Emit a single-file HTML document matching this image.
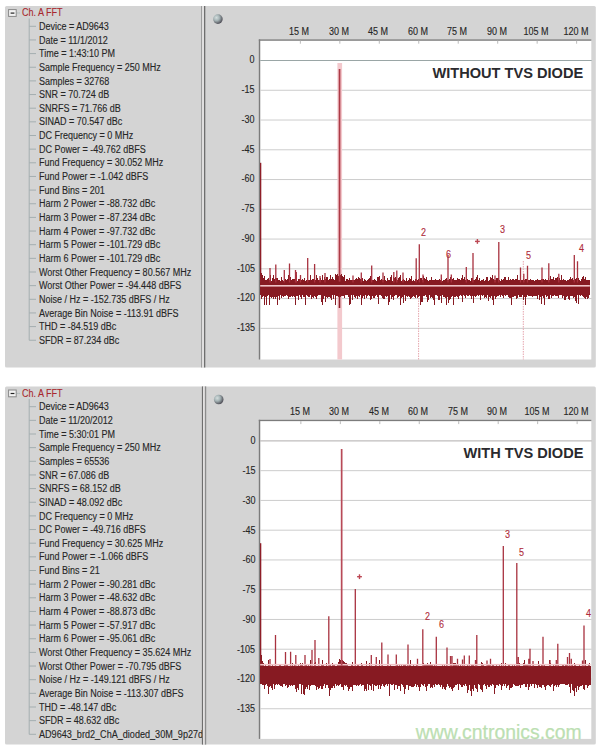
<!DOCTYPE html>
<html><head><meta charset="utf-8"><style>
html,body{margin:0;padding:0;background:#fff}
body{width:600px;height:748px;position:relative;overflow:hidden;font-family:"Liberation Sans",Arial,sans-serif}
svg{position:absolute;left:0;top:0}
.t{position:absolute;font-size:10.0px;line-height:10.0px;white-space:nowrap;color:#262626;-webkit-text-stroke:0.12px currentColor;transform:scaleX(0.9);transform-origin:0 0}
.t.r{transform-origin:100% 0;text-align:right}
.t.c{transform-origin:50% 0;text-align:center}
.t.m{color:#b02c3a}
.b{position:absolute;font-size:14.6px;line-height:14.8px;font-weight:bold;color:#2a2a2e;white-space:nowrap}
.wm{position:absolute;left:415.8px;top:722.3px;font-size:19.4px;line-height:20px;color:#bcdfb2;-webkit-text-stroke:0.25px #bcdfb2;white-space:nowrap}
.clip{position:absolute;overflow:hidden}
</style></head><body>
<svg width="600" height="748" viewBox="0 0 600 748">
<defs><radialGradient id="ball" cx="35%" cy="35%" r="70%"><stop offset="0" stop-color="#d4dede"/><stop offset="0.45" stop-color="#a4b2b4"/><stop offset="0.8" stop-color="#6a6e74"/><stop offset="1" stop-color="#4a4852"/></radialGradient></defs>
<rect x="5" y="6.00" width="590.8" height="361.50" rx="1.5" fill="#d4d4d4"/><rect x="8.6" y="9.60" width="7.6" height="6.8" fill="#f4f4f4" stroke="#888" stroke-width="1"/><rect x="10.6" y="12.50" width="3.8" height="1.2" fill="#222"/><line x1="16.6" y1="13.00" x2="20" y2="13.00" stroke="#9aa" stroke-width="1" stroke-dasharray="1 1"/><line x1="29.2" y1="18.50" x2="29.2" y2="340.25" stroke="#a4aeb0" stroke-width="1"/><line x1="29.2" y1="26.30" x2="36" y2="26.30" stroke="#a4aeb0" stroke-width="1"/><line x1="29.2" y1="39.95" x2="36" y2="39.95" stroke="#a4aeb0" stroke-width="1"/><line x1="29.2" y1="53.60" x2="36" y2="53.60" stroke="#a4aeb0" stroke-width="1"/><line x1="29.2" y1="67.25" x2="36" y2="67.25" stroke="#a4aeb0" stroke-width="1"/><line x1="29.2" y1="80.90" x2="36" y2="80.90" stroke="#a4aeb0" stroke-width="1"/><line x1="29.2" y1="94.55" x2="36" y2="94.55" stroke="#a4aeb0" stroke-width="1"/><line x1="29.2" y1="108.20" x2="36" y2="108.20" stroke="#a4aeb0" stroke-width="1"/><line x1="29.2" y1="121.85" x2="36" y2="121.85" stroke="#a4aeb0" stroke-width="1"/><line x1="29.2" y1="135.50" x2="36" y2="135.50" stroke="#a4aeb0" stroke-width="1"/><line x1="29.2" y1="149.15" x2="36" y2="149.15" stroke="#a4aeb0" stroke-width="1"/><line x1="29.2" y1="162.80" x2="36" y2="162.80" stroke="#a4aeb0" stroke-width="1"/><line x1="29.2" y1="176.45" x2="36" y2="176.45" stroke="#a4aeb0" stroke-width="1"/><line x1="29.2" y1="190.10" x2="36" y2="190.10" stroke="#a4aeb0" stroke-width="1"/><line x1="29.2" y1="203.75" x2="36" y2="203.75" stroke="#a4aeb0" stroke-width="1"/><line x1="29.2" y1="217.40" x2="36" y2="217.40" stroke="#a4aeb0" stroke-width="1"/><line x1="29.2" y1="231.05" x2="36" y2="231.05" stroke="#a4aeb0" stroke-width="1"/><line x1="29.2" y1="244.70" x2="36" y2="244.70" stroke="#a4aeb0" stroke-width="1"/><line x1="29.2" y1="258.35" x2="36" y2="258.35" stroke="#a4aeb0" stroke-width="1"/><line x1="29.2" y1="272.00" x2="36" y2="272.00" stroke="#a4aeb0" stroke-width="1"/><line x1="29.2" y1="285.65" x2="36" y2="285.65" stroke="#a4aeb0" stroke-width="1"/><line x1="29.2" y1="299.30" x2="36" y2="299.30" stroke="#a4aeb0" stroke-width="1"/><line x1="29.2" y1="312.95" x2="36" y2="312.95" stroke="#a4aeb0" stroke-width="1"/><line x1="29.2" y1="326.60" x2="36" y2="326.60" stroke="#a4aeb0" stroke-width="1"/><line x1="29.2" y1="340.25" x2="36" y2="340.25" stroke="#a4aeb0" stroke-width="1"/><rect x="5" y="386.40" width="590.8" height="358.20" rx="1.5" fill="#d4d4d4"/><rect x="8.6" y="390.00" width="7.6" height="6.8" fill="#f4f4f4" stroke="#888" stroke-width="1"/><rect x="10.6" y="392.90" width="3.8" height="1.2" fill="#222"/><line x1="16.6" y1="393.40" x2="20" y2="393.40" stroke="#9aa" stroke-width="1" stroke-dasharray="1 1"/><line x1="29.2" y1="398.90" x2="29.2" y2="734.30" stroke="#a4aeb0" stroke-width="1"/><line x1="29.2" y1="406.70" x2="36" y2="406.70" stroke="#a4aeb0" stroke-width="1"/><line x1="29.2" y1="420.35" x2="36" y2="420.35" stroke="#a4aeb0" stroke-width="1"/><line x1="29.2" y1="434.00" x2="36" y2="434.00" stroke="#a4aeb0" stroke-width="1"/><line x1="29.2" y1="447.65" x2="36" y2="447.65" stroke="#a4aeb0" stroke-width="1"/><line x1="29.2" y1="461.30" x2="36" y2="461.30" stroke="#a4aeb0" stroke-width="1"/><line x1="29.2" y1="474.95" x2="36" y2="474.95" stroke="#a4aeb0" stroke-width="1"/><line x1="29.2" y1="488.60" x2="36" y2="488.60" stroke="#a4aeb0" stroke-width="1"/><line x1="29.2" y1="502.25" x2="36" y2="502.25" stroke="#a4aeb0" stroke-width="1"/><line x1="29.2" y1="515.90" x2="36" y2="515.90" stroke="#a4aeb0" stroke-width="1"/><line x1="29.2" y1="529.55" x2="36" y2="529.55" stroke="#a4aeb0" stroke-width="1"/><line x1="29.2" y1="543.20" x2="36" y2="543.20" stroke="#a4aeb0" stroke-width="1"/><line x1="29.2" y1="556.85" x2="36" y2="556.85" stroke="#a4aeb0" stroke-width="1"/><line x1="29.2" y1="570.50" x2="36" y2="570.50" stroke="#a4aeb0" stroke-width="1"/><line x1="29.2" y1="584.15" x2="36" y2="584.15" stroke="#a4aeb0" stroke-width="1"/><line x1="29.2" y1="597.80" x2="36" y2="597.80" stroke="#a4aeb0" stroke-width="1"/><line x1="29.2" y1="611.45" x2="36" y2="611.45" stroke="#a4aeb0" stroke-width="1"/><line x1="29.2" y1="625.10" x2="36" y2="625.10" stroke="#a4aeb0" stroke-width="1"/><line x1="29.2" y1="638.75" x2="36" y2="638.75" stroke="#a4aeb0" stroke-width="1"/><line x1="29.2" y1="652.40" x2="36" y2="652.40" stroke="#a4aeb0" stroke-width="1"/><line x1="29.2" y1="666.05" x2="36" y2="666.05" stroke="#a4aeb0" stroke-width="1"/><line x1="29.2" y1="679.70" x2="36" y2="679.70" stroke="#a4aeb0" stroke-width="1"/><line x1="29.2" y1="693.35" x2="36" y2="693.35" stroke="#a4aeb0" stroke-width="1"/><line x1="29.2" y1="707.00" x2="36" y2="707.00" stroke="#a4aeb0" stroke-width="1"/><line x1="29.2" y1="720.65" x2="36" y2="720.65" stroke="#a4aeb0" stroke-width="1"/><line x1="29.2" y1="734.30" x2="36" y2="734.30" stroke="#a4aeb0" stroke-width="1"/><rect x="201" y="6.00" width="1.1" height="361.50" fill="#9c9c9c"/><rect x="202.1" y="6.00" width="1.8" height="361.50" fill="#e2e0e0"/><rect x="204" y="6.00" width="1.3" height="361.50" fill="#6e6e6e"/><circle cx="217.9" cy="19.10" r="4.8" fill="url(#ball)"/><rect x="260.2" y="40.70" width="331.1" height="318.80" fill="#fff"/><rect x="258.8" y="39.40" width="1.4" height="320.10" fill="#7c7c7c"/><rect x="258.8" y="39.40" width="332.5" height="1.3" fill="#7c7c7c"/><rect x="299.86" y="40.70" width="1" height="3" fill="#bbb"/><rect x="339.33" y="40.70" width="1" height="3" fill="#bbb"/><rect x="378.79" y="40.70" width="1" height="3" fill="#bbb"/><rect x="418.26" y="40.70" width="1" height="3" fill="#bbb"/><rect x="457.72" y="40.70" width="1" height="3" fill="#bbb"/><rect x="497.19" y="40.70" width="1" height="3" fill="#bbb"/><rect x="536.65" y="40.70" width="1" height="3" fill="#bbb"/><rect x="576.12" y="40.70" width="1" height="3" fill="#bbb"/><rect x="260.2" y="60.00" width="331.5" height="1" fill="#9aa6a6"/><rect x="260.2" y="89.76" width="331.5" height="1" fill="#cdcdcd"/><rect x="260.2" y="119.52" width="331.5" height="1" fill="#cdcdcd"/><rect x="260.2" y="149.28" width="331.5" height="1" fill="#cdcdcd"/><rect x="260.2" y="179.04" width="331.5" height="1" fill="#cdcdcd"/><rect x="260.2" y="208.80" width="331.5" height="1" fill="#cdcdcd"/><rect x="260.2" y="238.56" width="331.5" height="1" fill="#cdcdcd"/><rect x="260.2" y="268.32" width="331.5" height="1" fill="#cdcdcd"/><rect x="260.2" y="298.08" width="331.5" height="1" fill="#cdcdcd"/><rect x="260.2" y="327.84" width="331.5" height="1" fill="#cdcdcd"/><rect x="337.40" y="63.00" width="4.7" height="296.50" fill="#f3c9cd"/><line x1="418.6" y1="293.0" x2="418.6" y2="359.5" stroke="#e6a6ae" stroke-width="1" stroke-dasharray="1.5 1"/><line x1="523.3" y1="261.0" x2="523.3" y2="359.5" stroke="#e6a6ae" stroke-width="1" stroke-dasharray="1.5 1"/><path d="M260.7 267.5V295.3M261.7 273.1V298.6M262.7 274.8V297.0M263.7 277.8V295.5M264.7 276.3V304.8M265.7 280.3V297.1M266.7 280.1V304.8M267.7 279.1V295.7M268.7 277.9V295.0M269.7 280.4V304.6M270.7 274.6V296.5M271.7 280.5V297.5M272.7 277.8V297.2M273.7 274.6V299.0M274.7 279.1V296.8M275.7 278.0V298.9M276.7 277.9V297.0M277.7 278.4V304.8M278.7 280.3V296.4M279.7 279.8V299.5M280.7 280.6V295.2M281.7 276.8V297.9M282.7 280.0V295.8M283.7 280.5V297.2M284.7 280.3V295.9M285.7 278.5V296.3M286.7 280.4V295.3M287.7 279.4V296.3M288.7 274.6V298.8M289.7 280.2V297.3M290.7 277.4V296.5M291.7 280.0V295.9M292.7 278.8V297.1M293.7 279.4V295.5M294.7 279.4V297.4M295.7 279.3V304.7M296.7 275.0V295.8M297.7 280.6V296.3M298.7 278.9V299.8M299.7 279.4V294.9M300.7 280.1V296.5M301.7 280.3V298.9M302.7 279.4V294.9M303.7 279.6V297.0M304.7 278.2V296.5M305.7 280.5V304.8M306.7 280.2V295.4M307.7 280.4V295.6M308.7 280.2V296.6M309.7 279.6V297.2M310.7 275.4V295.2M311.7 279.6V299.3M312.7 279.4V296.8M313.7 278.7V297.8M314.7 279.5V296.1M315.7 279.7V297.0M316.7 274.6V298.9M317.7 277.5V296.3M318.7 280.3V295.4M319.7 280.2V295.4M320.7 278.1V295.3M321.7 279.9V301.8M322.7 274.6V304.8M323.7 280.1V298.7M324.7 276.6V296.1M325.7 278.7V302.3M326.7 277.3V296.6M327.7 277.4V298.4M328.7 280.0V297.0M329.7 278.6V296.9M330.7 274.6V297.5M331.7 279.0V299.5M332.7 276.6V295.1M333.7 279.4V299.2M334.7 279.7V295.4M335.7 273.9V304.8M336.7 275.2V295.7M337.7 274.2V295.8M338.7 275.6V296.5M339.7 272.4V294.9M340.7 274.9V296.6M341.7 273.8V296.0M342.7 276.0V296.3M343.7 276.9V296.1M344.7 275.0V298.2M345.7 280.5V295.2M346.7 278.5V295.2M347.7 278.5V295.0M348.7 280.1V297.3M349.7 278.1V304.8M350.7 280.4V304.0M351.7 280.2V294.9M352.7 279.6V299.7M353.7 280.3V294.9M354.7 280.0V296.7M355.7 278.8V297.8M356.7 277.8V295.9M357.7 279.1V299.4M358.7 276.5V295.9M359.7 278.4V296.7M360.7 278.6V295.2M361.7 280.4V304.8M362.7 277.7V297.9M363.7 280.6V295.5M364.7 278.7V299.1M365.7 279.9V295.3M366.7 280.5V297.8M367.7 280.4V295.9M368.7 279.3V294.8M369.7 278.0V295.7M370.7 276.2V299.8M371.7 280.4V299.1M372.7 280.1V296.2M373.7 280.3V297.6M374.7 278.7V298.3M375.7 280.3V296.2M376.7 280.5V295.1M377.7 277.0V296.5M378.7 276.5V303.9M379.7 275.9V295.2M380.7 280.2V295.3M381.7 278.7V296.2M382.7 280.2V297.5M383.7 279.6V299.0M384.7 276.1V298.5M385.7 280.4V296.4M386.7 280.5V297.0M387.7 278.3V295.5M388.7 280.3V304.8M389.7 279.9V301.5M390.7 276.7V295.1M391.7 274.8V298.8M392.7 280.6V297.2M393.7 276.7V299.8M394.7 278.0V295.6M395.7 276.5V295.1M396.7 278.9V294.9M397.7 280.4V298.2M398.7 278.1V296.9M399.7 276.5V296.0M400.7 274.8V304.8M401.7 280.6V298.2M402.7 279.7V297.0M403.7 278.5V302.5M404.7 280.4V294.9M405.7 280.5V300.9M406.7 277.8V296.1M407.7 280.6V296.5M408.7 279.9V296.0M409.7 278.2V296.5M410.7 278.5V298.7M411.7 276.1V298.4M412.7 280.6V297.0M413.7 279.8V296.0M414.7 280.5V297.4M415.7 278.5V297.9M416.7 278.5V295.3M417.7 280.4V298.1M418.7 278.6V296.5M419.7 279.6V296.2M420.7 278.1V304.8M421.7 278.1V302.2M422.7 279.5V302.2M423.7 275.9V296.1M424.7 278.4V295.5M425.7 279.3V295.2M426.7 277.2V296.7M427.7 280.2V302.0M428.7 280.5V299.7M429.7 280.1V294.8M430.7 280.2V298.0M431.7 276.6V296.7M432.7 280.4V298.2M433.7 280.4V300.3M434.7 280.4V304.5M435.7 278.5V295.1M436.7 280.2V295.1M437.7 280.3V295.6M438.7 279.9V299.6M439.7 279.1V300.0M440.7 280.0V295.9M441.7 278.1V302.5M442.7 280.5V295.4M443.7 279.5V296.5M444.7 280.3V297.0M445.7 278.9V297.8M446.7 278.2V304.8M447.7 279.8V297.3M448.7 279.6V302.6M449.7 278.7V300.3M450.7 276.9V298.6M451.7 280.3V297.4M452.7 279.0V296.2M453.7 278.0V304.8M454.7 279.5V296.7M455.7 279.8V297.1M456.7 279.9V295.7M457.7 278.0V296.8M458.7 279.3V299.0M459.7 279.0V296.4M460.7 280.4V295.0M461.7 278.3V296.0M462.7 275.1V302.2M463.7 279.4V295.2M464.7 277.3V295.5M465.7 280.4V298.1M466.7 279.9V295.3M467.7 278.8V295.8M468.7 280.0V296.3M469.7 280.3V295.1M470.7 280.5V296.4M471.7 277.5V298.7M472.7 277.9V296.4M473.7 280.1V303.1M474.7 279.9V295.7M475.7 278.7V296.7M476.7 277.4V295.7M477.7 274.8V294.9M478.7 280.2V296.1M479.7 278.2V295.1M480.7 280.5V300.3M481.7 280.1V295.3M482.7 279.9V295.8M483.7 279.1V295.0M484.7 280.5V297.5M485.7 280.2V297.1M486.7 277.4V297.9M487.7 276.9V295.1M488.7 280.5V300.8M489.7 279.7V297.3M490.7 276.8V298.2M491.7 278.1V295.6M492.7 274.6V299.5M493.7 279.1V304.8M494.7 279.8V296.2M495.7 280.3V299.2M496.7 278.3V296.5M497.7 278.3V296.3M498.7 278.1V295.9M499.7 280.2V295.4M500.7 280.6V296.5M501.7 279.3V295.2M502.7 280.1V296.4M503.7 278.9V298.3M504.7 276.6V295.4M505.7 276.8V295.6M506.7 279.5V294.9M507.7 280.1V294.9M508.7 277.0V296.7M509.7 279.6V298.1M510.7 279.4V297.7M511.7 279.5V304.8M512.7 279.1V297.0M513.7 278.5V297.4M514.7 280.2V295.9M515.7 279.3V296.0M516.7 278.8V299.3M517.7 274.6V298.4M518.7 279.7V295.2M519.7 280.3V296.7M520.7 280.6V297.0M521.7 280.3V297.3M522.7 280.1V294.8M523.7 278.5V299.8M524.7 279.7V296.6M525.7 278.8V304.8M526.7 278.9V297.2M527.7 279.0V295.2M528.7 279.6V295.7M529.7 280.4V295.6M530.7 279.3V295.6M531.7 279.8V296.0M532.7 279.8V297.3M533.7 279.8V296.1M534.7 280.5V295.5M535.7 280.3V295.5M536.7 280.2V296.2M537.7 278.7V298.5M538.7 280.0V295.2M539.7 279.5V300.1M540.7 280.3V296.8M541.7 279.2V303.5M542.7 279.4V295.6M543.7 279.0V297.7M544.7 279.8V304.8M545.7 279.4V295.0M546.7 279.9V297.4M547.7 279.9V296.2M548.7 277.8V299.2M549.7 280.4V298.5M550.7 275.9V295.3M551.7 279.4V297.6M552.7 279.4V295.7M553.7 277.4V296.0M554.7 280.0V295.4M555.7 278.2V296.2M556.7 278.0V296.4M557.7 277.4V295.5M558.7 280.3V297.9M559.7 277.9V294.9M560.7 280.0V295.3M561.7 274.6V295.1M562.7 279.7V298.0M563.7 279.1V295.6M564.7 280.2V299.5M565.7 279.8V299.8M566.7 280.6V297.1M567.7 280.4V295.7M568.7 279.7V298.6M569.7 279.4V300.3M570.7 277.0V295.7M571.7 278.8V295.6M572.7 278.0V295.7M573.7 280.0V298.1M574.7 276.6V297.4M575.7 279.3V301.2M576.7 277.6V302.9M577.7 279.7V295.1M578.7 277.8V304.2M579.7 280.0V295.4M580.7 280.5V296.2M581.7 278.7V295.3M582.7 276.8V295.8M583.7 276.4V297.4M584.7 279.3V297.5M585.7 277.4V298.9M586.7 280.2V297.0M587.7 279.6V299.1M588.7 280.0V297.9M589.7 279.7V295.1" stroke="#871a22" stroke-width="1" fill="none" shape-rendering="crispEdges"/><rect x="260.00" y="162.80" width="1.3" height="119.80" fill="#8e1e28"/><path d="M270.0 268.0V282.6M275.8 264.6V282.6M284.3 270.0V282.6M289.5 263.5V282.6M295.5 270.0V282.6M296.3 272.0V282.6M300.5 275.0V282.6M307.7 258.0V282.6M314.6 264.0V282.6M320.0 276.0V282.6M325.0 273.0V282.6M353.0 275.5V282.6M361.3 272.5V282.6M371.7 265.5V282.6M383.0 272.5V282.6M393.8 272.0V282.6M396.8 270.5V282.6M403.0 272.5V282.6M416.2 258.2V282.6M419.3 244.2V282.6M423.0 274.5V282.6M441.3 274.5V282.6M448.0 255.0V282.6M451.3 274.5V282.6M466.3 267.0V282.6M473.0 253.0V282.6M495.0 275.5V282.6M498.8 242.0V282.6M520.5 267.5V282.6M523.8 273.8V282.6M527.5 265.8V282.6M542.0 267.5V282.6M548.8 263.3V282.6M558.8 273.8V282.6M574.3 255.0V282.6M577.5 261.3V282.6" stroke="#a8323f" stroke-width="1.3" fill="none"/><rect x="260.2" y="285.00" width="329.7" height="1.6" fill="#f0c4c8"/><rect x="338.70" y="69.00" width="1.7" height="212.60" fill="#ad3a46"/><rect x="338.70" y="292.80" width="1.6" height="15.20" fill="#8e1e28"/><rect x="475.00" y="240.70" width="4.8" height="1.4" fill="#bc4854"/><rect x="476.70" y="239.00" width="1.4" height="4.8" fill="#bc4854"/><rect x="201.9" y="386.40" width="1.1" height="358.20" fill="#6e6e6e"/><rect x="203.0" y="386.40" width="1.8" height="358.20" fill="#e2e0e0"/><rect x="204.9" y="386.40" width="1.3" height="358.20" fill="#8c8c8c"/><circle cx="218.7" cy="399.50" r="4.8" fill="url(#ball)"/><rect x="260.2" y="421.10" width="331.1" height="317.80" fill="#fff"/><rect x="258.8" y="419.80" width="1.4" height="319.10" fill="#7c7c7c"/><rect x="258.8" y="419.80" width="332.5" height="1.3" fill="#7c7c7c"/><rect x="300.36" y="421.10" width="1" height="3" fill="#bbb"/><rect x="339.83" y="421.10" width="1" height="3" fill="#bbb"/><rect x="379.29" y="421.10" width="1" height="3" fill="#bbb"/><rect x="418.76" y="421.10" width="1" height="3" fill="#bbb"/><rect x="458.22" y="421.10" width="1" height="3" fill="#bbb"/><rect x="497.69" y="421.10" width="1" height="3" fill="#bbb"/><rect x="537.15" y="421.10" width="1" height="3" fill="#bbb"/><rect x="576.62" y="421.10" width="1" height="3" fill="#bbb"/><rect x="260.2" y="440.40" width="331.5" height="1" fill="#b0acac"/><rect x="260.2" y="470.16" width="331.5" height="1" fill="#cdcdcd"/><rect x="260.2" y="499.92" width="331.5" height="1" fill="#cdcdcd"/><rect x="260.2" y="529.68" width="331.5" height="1" fill="#cdcdcd"/><rect x="260.2" y="559.44" width="331.5" height="1" fill="#cdcdcd"/><rect x="260.2" y="589.20" width="331.5" height="1" fill="#cdcdcd"/><rect x="260.2" y="618.96" width="331.5" height="1" fill="#cdcdcd"/><rect x="260.2" y="648.72" width="331.5" height="1" fill="#cdcdcd"/><rect x="260.2" y="678.48" width="331.5" height="1" fill="#cdcdcd"/><rect x="260.2" y="708.24" width="331.5" height="1" fill="#cdcdcd"/><path d="M260.7 656.1V684.1M261.7 654.7V684.4M262.7 661.1V685.0M263.7 662.8V685.3M264.7 665.6V689.1M265.7 664.1V684.8M266.7 665.6V684.0M267.7 665.6V686.2M268.7 660.3V694.0M269.7 663.8V686.6M270.7 665.6V685.7M271.7 665.6V687.9M272.7 663.8V689.5M273.7 665.6V683.9M274.7 665.6V688.7M275.7 665.6V684.5M276.7 665.6V684.2M277.7 665.6V684.6M278.7 665.6V684.0M279.7 665.1V684.8M280.7 664.6V685.9M281.7 665.6V685.8M282.7 665.6V686.8M283.7 665.6V684.2M284.7 664.7V684.1M285.7 665.6V685.9M286.7 663.8V684.9M287.7 665.4V687.6M288.7 665.6V687.2M289.7 665.6V684.9M290.7 665.6V685.7M291.7 665.6V685.4M292.7 663.1V685.8M293.7 665.6V685.2M294.7 665.3V684.8M295.7 665.6V688.5M296.7 665.6V691.8M297.7 665.6V687.5M298.7 665.4V690.2M299.7 665.6V684.3M300.7 663.1V684.3M301.7 665.1V693.5M302.7 662.8V685.0M303.7 665.5V694.2M304.7 665.6V694.7M305.7 665.3V689.1M306.7 665.0V686.6M307.7 665.6V689.2M308.7 663.9V685.3M309.7 665.6V690.0M310.7 660.0V686.1M311.7 665.6V684.7M312.7 665.6V684.7M313.7 665.6V684.9M314.7 663.2V685.1M315.7 661.9V686.1M316.7 665.6V689.7M317.7 665.6V686.5M318.7 665.6V689.3M319.7 665.6V687.7M320.7 665.6V686.3M321.7 664.7V689.4M322.7 660.2V689.0M323.7 664.9V685.8M324.7 665.6V684.1M325.7 665.6V688.0M326.7 663.4V685.4M327.7 665.6V684.5M328.7 665.6V687.7M329.7 664.6V695.9M330.7 664.2V690.1M331.7 665.6V687.9M332.7 662.9V688.0M333.7 664.6V686.0M334.7 664.9V688.2M335.7 665.6V684.0M336.7 665.6V686.2M337.7 664.9V685.4M338.7 662.3V685.7M339.7 658.7V684.5M340.7 660.2V684.1M341.7 660.1V687.4M342.7 660.3V686.7M343.7 660.9V690.3M344.7 662.4V685.0M345.7 662.6V686.4M346.7 662.6V685.4M347.7 663.6V686.7M348.7 665.6V691.1M349.7 665.6V688.5M350.7 665.6V686.5M351.7 665.1V686.5M352.7 662.2V691.0M353.7 665.6V685.1M354.7 665.6V684.9M355.7 664.9V684.6M356.7 665.6V685.9M357.7 664.3V684.5M358.7 664.6V686.0M359.7 665.6V684.5M360.7 665.6V684.4M361.7 663.3V685.9M362.7 664.2V685.0M363.7 665.6V685.4M364.7 665.6V690.5M365.7 665.6V689.3M366.7 661.3V690.8M367.7 665.6V683.9M368.7 665.6V689.6M369.7 663.3V685.0M370.7 665.6V686.2M371.7 665.6V690.0M372.7 665.6V684.0M373.7 665.6V690.5M374.7 665.6V684.8M375.7 665.4V686.1M376.7 665.6V686.4M377.7 665.6V684.6M378.7 665.6V689.3M379.7 660.0V685.4M380.7 665.6V688.7M381.7 665.6V685.9M382.7 665.1V684.1M383.7 665.6V686.0M384.7 665.6V687.0M385.7 665.6V685.1M386.7 665.6V684.3M387.7 664.8V686.4M388.7 665.6V684.0M389.7 665.6V695.9M390.7 665.1V684.2M391.7 665.6V684.5M392.7 665.5V684.8M393.7 665.6V684.2M394.7 665.6V690.3M395.7 665.6V684.6M396.7 665.1V685.4M397.7 665.3V689.4M398.7 665.6V686.2M399.7 664.7V686.0M400.7 665.5V691.2M401.7 664.4V684.4M402.7 665.6V684.7M403.7 665.0V687.0M404.7 664.5V694.0M405.7 665.1V688.8M406.7 665.6V684.6M407.7 665.0V684.6M408.7 665.6V689.5M409.7 664.1V686.0M410.7 659.6V685.5M411.7 665.6V686.7M412.7 665.6V686.6M413.7 665.4V687.2M414.7 665.6V685.9M415.7 665.6V684.1M416.7 665.3V687.2M417.7 665.6V684.5M418.7 665.6V686.5M419.7 665.6V690.6M420.7 665.6V686.5M421.7 665.6V684.4M422.7 665.6V685.2M423.7 663.3V686.1M424.7 663.5V684.0M425.7 665.3V686.6M426.7 663.8V691.1M427.7 662.7V686.2M428.7 665.4V684.1M429.7 664.9V684.1M430.7 661.9V687.9M431.7 665.0V686.7M432.7 665.2V688.0M433.7 665.6V685.2M434.7 665.3V686.9M435.7 665.6V684.1M436.7 665.6V684.9M437.7 665.6V684.7M438.7 665.6V684.3M439.7 665.6V684.7M440.7 665.6V687.4M441.7 665.6V685.0M442.7 664.1V688.8M443.7 665.6V686.8M444.7 665.4V688.6M445.7 665.6V689.7M446.7 663.9V686.8M447.7 665.6V684.2M448.7 665.6V686.2M449.7 665.6V687.9M450.7 665.6V686.5M451.7 664.9V689.2M452.7 665.5V690.5M453.7 663.1V687.8M454.7 663.4V686.9M455.7 663.3V685.3M456.7 664.0V684.6M457.7 662.5V684.4M458.7 665.2V689.6M459.7 665.6V684.4M460.7 665.2V685.3M461.7 665.6V686.5M462.7 664.8V687.1M463.7 665.6V685.3M464.7 665.6V685.6M465.7 665.6V683.9M466.7 665.6V686.1M467.7 664.6V692.5M468.7 665.6V689.7M469.7 665.6V685.0M470.7 665.6V691.1M471.7 665.2V695.9M472.7 663.9V688.8M473.7 665.0V690.6M474.7 665.6V685.1M475.7 665.4V687.9M476.7 664.7V689.4M477.7 665.6V691.8M478.7 665.5V684.4M479.7 665.6V685.0M480.7 665.6V689.4M481.7 662.4V689.9M482.7 663.1V692.1M483.7 664.0V685.2M484.7 665.6V684.2M485.7 665.6V685.8M486.7 665.6V689.0M487.7 665.3V685.2M488.7 664.0V687.3M489.7 664.2V686.5M490.7 665.6V684.5M491.7 665.6V686.0M492.7 665.2V683.9M493.7 665.0V684.9M494.7 665.6V693.7M495.7 665.6V688.4M496.7 664.7V685.1M497.7 665.6V684.7M498.7 665.6V686.0M499.7 665.2V684.4M500.7 665.6V685.3M501.7 663.0V690.1M502.7 665.6V685.6M503.7 665.5V684.0M504.7 665.6V686.1M505.7 663.1V684.4M506.7 665.6V687.5M507.7 665.6V685.5M508.7 664.2V684.8M509.7 664.9V689.8M510.7 665.6V687.5M511.7 665.6V688.2M512.7 664.6V686.5M513.7 665.6V684.1M514.7 665.2V684.9M515.7 665.6V686.2M516.7 663.9V686.0M517.7 662.9V686.0M518.7 664.4V685.5M519.7 662.8V685.3M520.7 665.6V688.1M521.7 665.6V685.1M522.7 665.6V685.0M523.7 663.1V684.4M524.7 659.6V684.3M525.7 663.7V687.1M526.7 665.1V686.9M527.7 664.2V684.4M528.7 664.7V689.6M529.7 664.8V686.6M530.7 664.8V684.2M531.7 665.6V685.9M532.7 665.6V684.1M533.7 663.7V684.0M534.7 665.6V688.4M535.7 665.6V684.3M536.7 665.6V684.9M537.7 665.6V688.0M538.7 661.1V685.0M539.7 664.8V686.5M540.7 665.6V686.5M541.7 664.1V688.2M542.7 664.6V684.5M543.7 665.5V685.0M544.7 665.0V686.5M545.7 665.6V690.3M546.7 665.6V685.7M547.7 665.6V685.4M548.7 665.6V684.8M549.7 659.7V686.0M550.7 662.5V687.1M551.7 665.6V685.3M552.7 665.6V684.1M553.7 664.7V690.8M554.7 665.6V686.2M555.7 663.7V685.1M556.7 665.5V686.8M557.7 665.5V685.3M558.7 665.2V686.7M559.7 665.6V685.2M560.7 665.6V684.2M561.7 665.6V684.0M562.7 663.9V684.4M563.7 665.0V683.9M564.7 665.6V684.3M565.7 664.6V685.3M566.7 664.2V684.6M567.7 660.6V685.4M568.7 665.6V684.4M569.7 665.6V687.3M570.7 665.6V692.9M571.7 665.2V684.2M572.7 665.4V690.1M573.7 665.6V691.4M574.7 662.9V695.9M575.7 664.5V687.5M576.7 665.6V692.2M577.7 665.6V685.7M578.7 665.5V689.7M579.7 664.4V686.7M580.7 665.6V685.5M581.7 665.6V686.2M582.7 665.5V684.5M583.7 665.6V689.0M584.7 665.6V689.7M585.7 659.6V684.9M586.7 665.6V685.2M587.7 665.6V687.8M588.7 664.4V686.3M589.7 663.2V684.7M590.7 665.6V684.5" stroke="#871a22" stroke-width="1" fill="none" shape-rendering="crispEdges"/><rect x="260.00" y="543.20" width="1.3" height="123.40" fill="#8e1e28"/><path d="M270.0 659.0V666.6M275.5 635.0V666.6M285.5 652.0V666.6M290.6 651.7V666.6M295.8 655.0V666.6M305.0 655.0V666.6M312.0 650.0V666.6M315.0 640.0V666.6M318.8 658.0V666.6M328.8 616.3V666.6M355.3 588.9V666.6M371.3 655.0V666.6M376.3 657.0V666.6M381.8 642.5V666.6M388.0 654.5V666.6M396.3 654.5V666.6M408.0 644.5V666.6M417.5 658.8V666.6M422.8 629.3V666.6M436.3 636.8V666.6M447.0 647.5V666.6M450.5 656.0V666.6M452.0 656.0V666.6M457.5 658.8V666.6M462.5 659.5V666.6M464.3 655.5V666.6M469.3 655.5V666.6M475.5 660.0V666.6M476.8 635.0V666.6M487.0 660.5V666.6M490.5 658.8V666.6M503.3 546.0V666.6M516.8 563.0V666.6M518.3 657.0V666.6M528.8 658.8V666.6M530.0 648.8V666.6M533.0 661.0V666.6M543.0 636.8V666.6M550.0 660.0V666.6M556.3 660.0V666.6M557.8 643.8V666.6M567.5 657.0V666.6M569.5 653.0V666.6M571.3 658.8V666.6M582.5 660.5V666.6M584.0 625.5V666.6" stroke="#a8323f" stroke-width="1.3" fill="none"/><rect x="260.2" y="663.90" width="330.4" height="1.6" fill="#f0c4c8"/><rect x="340.80" y="449.00" width="1.7" height="216.60" fill="#b84a58"/><rect x="357.10" y="576.00" width="4.8" height="1.4" fill="#bc4854"/><rect x="358.80" y="574.30" width="1.4" height="4.8" fill="#bc4854"/>
</svg>
<div class="clip" style="left:0;top:0.00px;width:201px;height:367.50px"><div class="t" style="left:38.60px;top:21.93px;">Device = AD9643</div><div class="t" style="left:38.60px;top:35.58px;">Date = 11/1/2012</div><div class="t" style="left:38.60px;top:49.23px;">Time = 1:43:10 PM</div><div class="t" style="left:38.60px;top:62.88px;">Sample Frequency = 250 MHz</div><div class="t" style="left:38.60px;top:76.53px;">Samples = 32768</div><div class="t" style="left:38.60px;top:90.19px;">SNR = 70.724 dB</div><div class="t" style="left:38.60px;top:103.84px;">SNRFS = 71.766 dB</div><div class="t" style="left:38.60px;top:117.48px;">SINAD = 70.547 dBc</div><div class="t" style="left:38.60px;top:131.13px;">DC Frequency = 0 MHz</div><div class="t" style="left:38.60px;top:144.78px;">DC Power = -49.762 dBFS</div><div class="t" style="left:38.60px;top:158.44px;">Fund Frequency = 30.052 MHz</div><div class="t" style="left:38.60px;top:172.09px;">Fund Power = -1.042 dBFS</div><div class="t" style="left:38.60px;top:185.74px;">Fund Bins = 201</div><div class="t" style="left:38.60px;top:199.39px;">Harm 2 Power = -88.732 dBc</div><div class="t" style="left:38.60px;top:213.03px;">Harm 3 Power = -87.234 dBc</div><div class="t" style="left:38.60px;top:226.69px;">Harm 4 Power = -97.732 dBc</div><div class="t" style="left:38.60px;top:240.34px;">Harm 5 Power = -101.729 dBc</div><div class="t" style="left:38.60px;top:253.98px;">Harm 6 Power = -101.729 dBc</div><div class="t" style="left:38.60px;top:267.64px;">Worst Other Frequency = 80.567 MHz</div><div class="t" style="left:38.60px;top:281.29px;">Worst Other Power = -94.448 dBFS</div><div class="t" style="left:38.60px;top:294.94px;">Noise / Hz = -152.735 dBFS / Hz</div><div class="t" style="left:38.60px;top:308.59px;">Average Bin Noise = -113.91 dBFS</div><div class="t" style="left:38.60px;top:322.24px;">THD = -84.519 dBc</div><div class="t" style="left:38.60px;top:335.88px;">SFDR = 87.234 dBc</div></div><div class="t" style="left:21.50px;top:8.14px;color:#a8282e">Ch. A FFT</div><div class="clip" style="left:0;top:380.40px;width:202.2px;height:364.20px"><div class="t" style="left:38.60px;top:21.93px;">Device = AD9643</div><div class="t" style="left:38.60px;top:35.58px;">Date = 11/20/2012</div><div class="t" style="left:38.60px;top:49.23px;">Time = 5:30:01 PM</div><div class="t" style="left:38.60px;top:62.88px;">Sample Frequency = 250 MHz</div><div class="t" style="left:38.60px;top:76.53px;">Samples = 65536</div><div class="t" style="left:38.60px;top:90.19px;">SNR = 67.086 dB</div><div class="t" style="left:38.60px;top:103.84px;">SNRFS = 68.152 dB</div><div class="t" style="left:38.60px;top:117.48px;">SINAD = 48.092 dBc</div><div class="t" style="left:38.60px;top:131.13px;">DC Frequency = 0 MHz</div><div class="t" style="left:38.60px;top:144.78px;">DC Power = -49.716 dBFS</div><div class="t" style="left:38.60px;top:158.44px;">Fund Frequency = 30.625 MHz</div><div class="t" style="left:38.60px;top:172.09px;">Fund Power = -1.066 dBFS</div><div class="t" style="left:38.60px;top:185.74px;">Fund Bins = 21</div><div class="t" style="left:38.60px;top:199.39px;">Harm 2 Power = -90.281 dBc</div><div class="t" style="left:38.60px;top:213.03px;">Harm 3 Power = -48.632 dBc</div><div class="t" style="left:38.60px;top:226.69px;">Harm 4 Power = -88.873 dBc</div><div class="t" style="left:38.60px;top:240.34px;">Harm 5 Power = -57.917 dBc</div><div class="t" style="left:38.60px;top:253.98px;">Harm 6 Power = -95.061 dBc</div><div class="t" style="left:38.60px;top:267.64px;">Worst Other Frequency = 35.624 MHz</div><div class="t" style="left:38.60px;top:281.29px;">Worst Other Power = -70.795 dBFS</div><div class="t" style="left:38.60px;top:294.94px;">Noise / Hz = -149.121 dBFS / Hz</div><div class="t" style="left:38.60px;top:308.59px;">Average Bin Noise = -113.307 dBFS</div><div class="t" style="left:38.60px;top:322.24px;">THD = -48.147 dBc</div><div class="t" style="left:38.60px;top:335.88px;">SFDR = 48.632 dBc</div><div class="t" style="left:38.60px;top:349.54px;transform:scaleX(0.908)">AD9643_brd2_ChA_dioded_30M_9p27d</div></div><div class="t" style="left:21.50px;top:388.54px;color:#a8282e">Ch. A FFT</div><div class="t c c" style="left:249.36px;width:100px;top:26.64px;">15 M</div><div class="t c c" style="left:288.83px;width:100px;top:26.64px;">30 M</div><div class="t c c" style="left:328.29px;width:100px;top:26.64px;">45 M</div><div class="t c c" style="left:367.76px;width:100px;top:26.64px;">60 M</div><div class="t c c" style="left:407.22px;width:100px;top:26.64px;">75 M</div><div class="t c c" style="left:446.69px;width:100px;top:26.64px;">90 M</div><div class="t c c" style="left:486.15px;width:100px;top:26.64px;">105 M</div><div class="t c c" style="left:525.62px;width:100px;top:26.64px;">120 M</div><div class="t r" style="right:345.40px;top:55.33px;">0</div><div class="t r" style="right:345.40px;top:85.09px;">-15</div><div class="t r" style="right:345.40px;top:114.86px;">-30</div><div class="t r" style="right:345.40px;top:144.62px;">-45</div><div class="t r" style="right:345.40px;top:174.38px;">-60</div><div class="t r" style="right:345.40px;top:204.14px;">-75</div><div class="t r" style="right:345.40px;top:233.90px;">-90</div><div class="t r" style="right:345.40px;top:263.66px;">-105</div><div class="t r" style="right:345.40px;top:293.42px;">-120</div><div class="t r" style="right:345.40px;top:323.18px;">-135</div><div class="b" style="right:16.80px;top:66.00px">WITHOUT TVS DIODE</div><div class="t m" style="left:420.70px;top:227.53px;">2</div><div class="t m" style="left:446.20px;top:249.53px;">6</div><div class="t m" style="left:500.20px;top:224.84px;">3</div><div class="t m" style="left:525.80px;top:250.84px;">5</div><div class="t m" style="left:579.30px;top:243.53px;">4</div><div class="t c c" style="left:249.86px;width:100px;top:407.04px;">15 M</div><div class="t c c" style="left:289.33px;width:100px;top:407.04px;">30 M</div><div class="t c c" style="left:328.79px;width:100px;top:407.04px;">45 M</div><div class="t c c" style="left:368.26px;width:100px;top:407.04px;">60 M</div><div class="t c c" style="left:407.72px;width:100px;top:407.04px;">75 M</div><div class="t c c" style="left:447.19px;width:100px;top:407.04px;">90 M</div><div class="t c c" style="left:486.65px;width:100px;top:407.04px;">105 M</div><div class="t c c" style="left:526.12px;width:100px;top:407.04px;">120 M</div><div class="t r" style="right:344.60px;top:436.24px;">0</div><div class="t r" style="right:344.60px;top:466.00px;">-15</div><div class="t r" style="right:344.60px;top:495.75px;">-30</div><div class="t r" style="right:344.60px;top:525.51px;">-45</div><div class="t r" style="right:344.60px;top:555.27px;">-60</div><div class="t r" style="right:344.60px;top:585.03px;">-75</div><div class="t r" style="right:344.60px;top:614.79px;">-90</div><div class="t r" style="right:344.60px;top:644.55px;">-105</div><div class="t r" style="right:344.60px;top:674.31px;">-120</div><div class="t r" style="right:344.60px;top:704.07px;">-135</div><div class="b" style="right:16.50px;top:445.60px">WITH TVS DIODE</div><div class="t m" style="left:505.00px;top:529.53px;">3</div><div class="t m" style="left:518.50px;top:548.03px;">5</div><div class="t m" style="left:425.00px;top:611.53px;">2</div><div class="t m" style="left:438.50px;top:620.03px;">6</div><div class="t m" style="left:586.30px;top:608.74px;">4</div><div class="wm">www.cntronics.com</div>
</body></html>
